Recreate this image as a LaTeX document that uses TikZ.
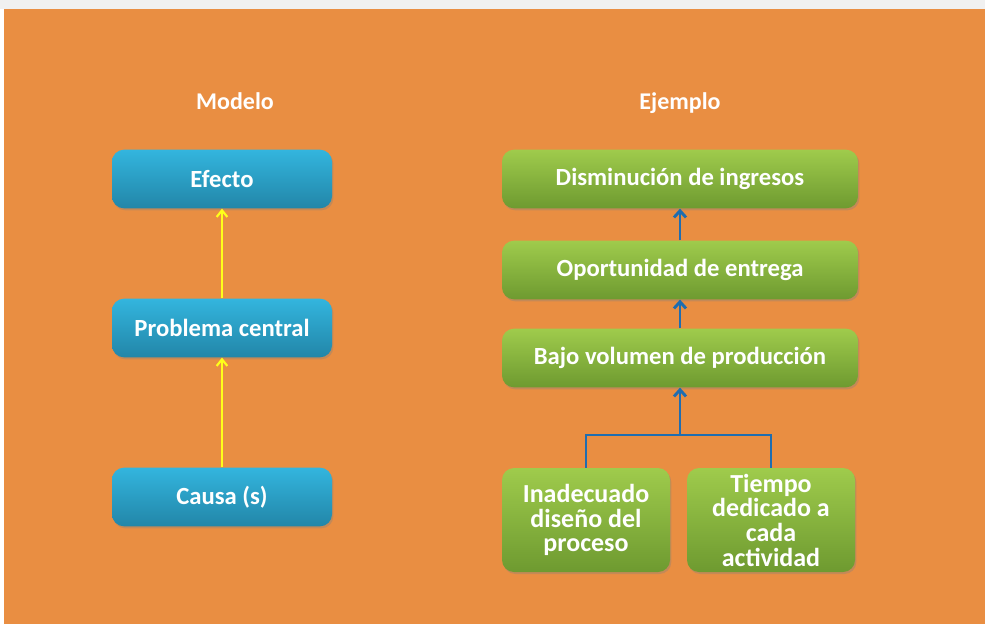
\documentclass[tikz,border=0pt]{standalone}
\usepackage{fontspec}
\setmainfont{Carlito}
\usetikzlibrary{arrows.meta,shadows}
\definecolor{bgor}{HTML}{E98E42}
\definecolor{bluetop}{HTML}{33B5DE}
\definecolor{bluebot}{HTML}{2286A8}
\definecolor{greentop}{HTML}{9FCB4C}
\definecolor{greenbot}{HTML}{6E9A30}
\definecolor{conn}{HTML}{1F6DB0}
\definecolor{yel}{HTML}{FFFF1A}
\tikzset{
  bluebox/.style={rounded corners=9pt, top color=bluetop, bottom color=bluebot, draw=none,
    minimum width=165pt, minimum height=44pt, text=white, font=\bfseries\fontsize{18.5}{22}\selectfont,
    drop shadow={shadow xshift=1pt, shadow yshift=-1.5pt, opacity=0.35}},
  greenbox/.style={rounded corners=9pt, top color=greentop, bottom color=greenbot, draw=none,
    minimum width=267pt, minimum height=44pt, text=white, font=\bfseries\fontsize{18.5}{22}\selectfont,
    drop shadow={shadow xshift=1pt, shadow yshift=-1.5pt, opacity=0.35}},
  smallgreen/.style={greenbox, minimum width=126pt, minimum height=78pt, align=center,
    font=\bfseries\fontsize{19.5}{18.5}\selectfont},
  title/.style={text=white, font=\bfseries\fontsize{18}{20}\selectfont, anchor=base},
  yarrow/.style={draw=yel, line width=1.6pt, -{Straight Barb[length=5pt,width=8pt]}},
  barrow/.style={draw=conn, line width=2.2pt, -{Straight Barb[length=5pt,width=9pt]}},
  bline/.style={draw=conn, line width=2.2pt}
}
\begin{document}
\begin{tikzpicture}[x=0.75pt,y=-0.75pt]
\useasboundingbox (0,0) rectangle (985,624);
\fill[white] (0,0) rectangle (985,624);
\fill[black!6] (0,0) rectangle (985,9);
\fill[bgor] (4,9) rectangle (985,624);

\node[title] (tmodelo) at (235,110) {Modelo};
\node[title] (tejemplo) at (680,110) {Ejemplo};

\node[bluebox] (efecto) at (222,179) {Efecto};
\node[bluebox] (problema) at (222,328) {Problema central};
\node[bluebox] (causa) at (222,497) {Causa (s)};

\draw[yarrow] (causa.north) -- (problema.south);
\draw[yarrow] (problema.north) -- (efecto.south);

\node[greenbox] (dism) at (680,179) {Disminución de ingresos};
\node[greenbox] (oport) at (680,270) {Oportunidad de entrega};
\node[greenbox] (bajo) at (680,358) {Bajo volumen de producción};
\node[smallgreen] (inad) at (586,520) {Inadecuado\\diseño del\\proceso};
\node[smallgreen] (tiempo) at (771,520) {Tiempo\\dedicado a\\cada\\actividad};

\coordinate (junc) at (680,435);
\draw[bline] (inad.north) |- (junc) -| (tiempo.north);
\draw[barrow] (junc) -- (bajo.south);
\draw[barrow] (bajo.north) -- (oport.south);
\draw[barrow] (oport.north) -- (dism.south);
\end{tikzpicture}
\end{document}
